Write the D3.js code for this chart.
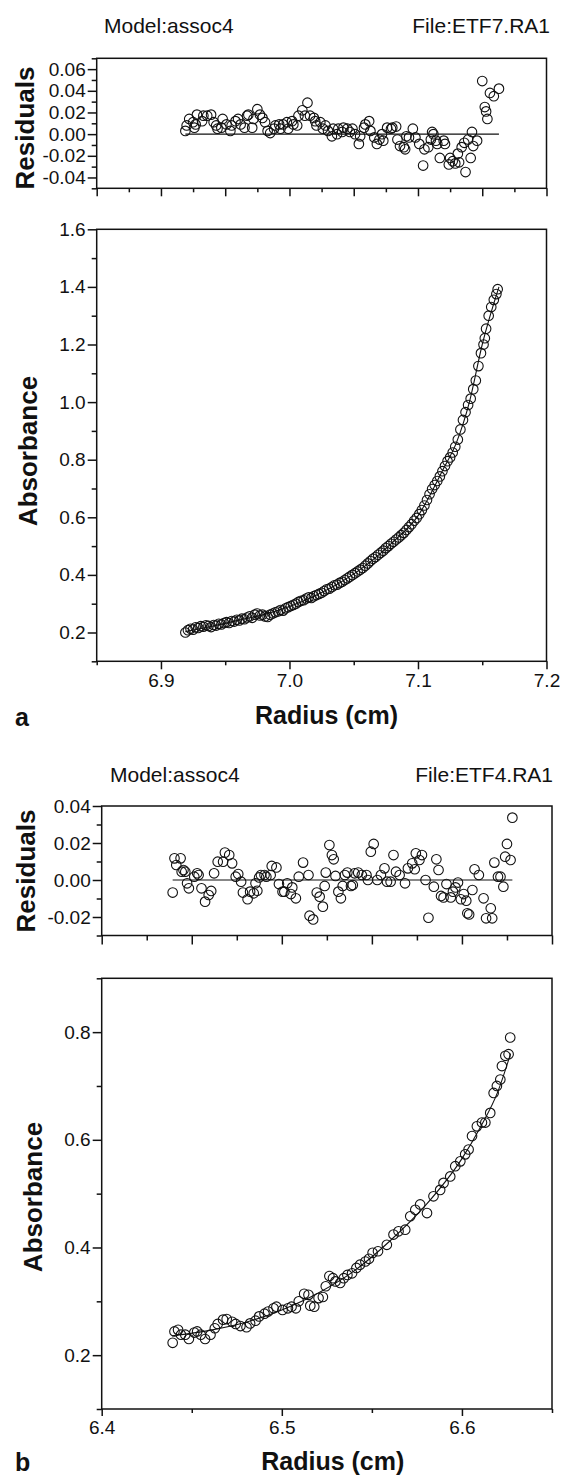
<!DOCTYPE html>
<html>
<head>
<meta charset="utf-8">
<script src="https://cdn.jsdelivr.net/npm/d3@7"></script>
<style>
  body { margin: 0; background: #fff; }
  text { font-family: "Liberation Sans", Arial, sans-serif; fill: #111; }
</style>
</head>
<body>
<svg id="chart" width="562" height="1479"></svg>
<script>
// ---- panel a : ETF7.RA1 ----
const resA_r = [6.919,6.920,6.922,6.925,6.926,6.927,6.928,6.932,6.933,6.936,
  6.939,6.941,6.943,6.944,6.947,6.948,6.951,6.954,6.955,6.958,
  6.960,6.962,6.965,6.967,6.968,6.971,6.972,6.975,6.977,6.979,
  6.981,6.983,6.985,6.988,6.989,6.992,6.993,6.995,6.998,6.999,
  7.002,7.003,7.006,7.007,7.010,7.012,7.014,7.016,7.019,7.020,
  7.021,7.024,7.026,7.028,7.030,7.033,7.034,7.037,7.038,7.041,
  7.042,7.045,7.047,7.049,7.051,7.054,7.055,7.058,7.059,7.062,
  7.063,7.066,7.068,7.070,7.072,7.073,7.076,7.079,7.080,7.083,
  7.084,7.086,7.089,7.090,7.091,7.093,7.096,7.098,7.101,7.104,
  7.105,7.108,7.110,7.111,7.112,7.114,7.115,7.117,7.120,7.121,
  7.124,7.125,7.127,7.129,7.131,7.132,7.134,7.136,7.137,7.139,
  7.141,7.142,7.143,7.146,7.150,7.152,7.153,7.154,7.156,7.159,7.163];
const resA_v = [0.003,0.008,0.014,0.011,0.006,0.009,0.018,0.012,0.017,0.017,
  0.018,0.011,0.008,0.005,0.006,0.014,0.009,0.003,0.008,0.012,
  0.014,0.009,0.006,0.017,0.018,0.006,0.014,0.023,0.018,0.015,
  0.011,0.003,0.001,0.005,0.008,0.009,0.005,0.009,0.011,0.005,
  0.012,0.009,0.008,0.017,0.022,0.017,0.029,0.017,0.015,0.012,
  0.008,0.011,0.005,0.008,0.003,-0.002,0.005,0.000,0.005,0.002,
  0.006,0.005,0.002,0.005,0.000,-0.009,-0.002,0.006,0.009,0.012,
  0.003,-0.003,-0.009,-0.005,0.000,-0.006,0.006,0.005,0.006,0.007,
  -0.005,-0.011,-0.012,-0.014,-0.002,-0.003,0.005,-0.003,-0.009,-0.029,
  -0.014,-0.012,-0.005,0.002,0.000,-0.006,-0.009,-0.022,-0.006,-0.009,
  -0.028,-0.022,-0.025,-0.027,-0.018,-0.026,-0.012,-0.008,-0.035,-0.005,
  -0.022,0.002,-0.011,-0.006,0.049,0.025,0.021,0.014,0.038,0.035,0.042];

const absA_r = [6.919,6.921,6.923,6.925,6.927,6.929,6.931,6.933,6.935,6.937,
  6.939,6.941,6.943,6.945,6.947,6.949,6.951,6.953,6.955,6.957,
  6.959,6.961,6.963,6.965,6.967,6.969,6.971,6.973,6.975,6.977,
  6.979,6.981,6.983,6.985,6.987,6.989,6.991,6.993,6.995,6.997,
  6.999,7.001,7.003,7.005,7.007,7.009,7.011,7.013,7.015,7.017,
  7.019,7.021,7.023,7.025,7.027,7.029,7.031,7.033,7.035,7.037,
  7.039,7.041,7.043,7.045,7.047,7.049,7.051,7.053,7.055,7.057,
  7.059,7.061,7.063,7.065,7.067,7.069,7.071,7.073,7.075,7.077,
  7.079,7.081,7.083,7.085,7.087,7.089,7.091,7.093,7.095,7.097,
  7.099,7.101,7.103,7.105,7.107,7.109,7.111,7.113,7.115,7.117,
  7.119,7.121,7.123,7.125,7.127,7.129,7.131,7.133,7.135,7.137,
  7.139,7.141,7.143,7.145,7.147,7.149,7.151,7.152,7.153,7.155,
  7.157,7.159,7.161,7.162];
const absA_v = [0.200,0.208,0.213,0.210,0.218,0.216,0.222,0.220,0.225,0.223,
  0.219,0.226,0.224,0.230,0.228,0.233,0.236,0.233,0.240,0.238,
  0.244,0.242,0.248,0.246,0.252,0.256,0.251,0.262,0.266,0.259,
  0.262,0.256,0.254,0.262,0.266,0.270,0.273,0.278,0.276,0.284,
  0.288,0.292,0.296,0.300,0.306,0.310,0.312,0.318,0.322,0.320,
  0.326,0.330,0.334,0.338,0.344,0.350,0.352,0.358,0.364,0.366,
  0.372,0.376,0.382,0.388,0.394,0.400,0.406,0.412,0.418,0.424,
  0.432,0.440,0.448,0.456,0.462,0.470,0.477,0.484,0.493,0.500,
  0.508,0.515,0.523,0.530,0.538,0.546,0.556,0.566,0.576,0.588,
  0.598,0.611,0.625,0.641,0.660,0.680,0.698,0.712,0.726,0.742,
  0.760,0.778,0.795,0.808,0.825,0.845,0.870,0.905,0.938,0.965,
  0.990,1.012,1.045,1.075,1.125,1.170,1.200,1.222,1.255,1.300,
  1.330,1.355,1.375,1.392];

const fitA_r = [6.919,6.940,6.960,6.980,7.000,7.020,7.040,7.060,7.080,7.100,7.120,7.130,7.140,7.150,7.163];
const fitA_v = [0.203,0.222,0.242,0.262,0.290,0.328,0.375,0.435,0.512,0.605,0.770,0.860,1.000,1.200,1.400];

// ---- panel b : ETF4.RA1 ----
const resB_r = [6.4394,6.4404,6.4414,6.4438,6.4444,6.4454,6.4464,6.4474,6.4484,6.4514,
  6.4530,6.4538,6.4554,6.4574,6.4594,6.4608,6.4624,6.4644,6.4674,6.4684,
  6.4708,6.4724,6.4744,6.4758,6.4774,6.4784,6.4810,6.4824,6.4844,6.4854,
  6.4864,6.4874,6.4884,6.4904,6.4914,6.4938,6.4944,6.4970,6.4984,6.5004,
  6.5014,6.5030,6.5050,6.5058,6.5078,6.5094,6.5118,6.5148,6.5154,6.5174,
  6.5194,6.5210,6.5228,6.5238,6.5244,6.5264,6.5278,6.5288,6.5298,6.5314,
  6.5328,6.5338,6.5350,6.5364,6.5384,6.5394,6.5404,6.5424,6.5444,6.5470,
  6.5478,6.5494,6.5510,6.5530,6.5550,6.5570,6.5584,6.5604,6.5620,6.5634,
  6.5654,6.5684,6.5700,6.5724,6.5738,6.5744,6.5764,6.5778,6.5798,6.5814,
  6.5844,6.5858,6.5870,6.5884,6.5898,6.5914,6.5938,6.5950,6.5964,6.5978,
  6.5994,6.6010,6.6024,6.6030,6.6040,6.6058,6.6070,6.6094,6.6120,6.6134,
  6.6160,6.6168,6.6180,6.6200,6.6214,6.6230,6.6240,6.6250,6.6270,6.6280];
const resB_v = [-0.0068,0.0117,0.0081,0.0117,0.0045,0.0054,0.0045,-0.0018,-0.0045,0.0018,
  0.0036,0.0027,-0.0045,-0.0117,-0.0081,-0.0059,0.0036,0.0099,0.0099,0.0148,
  0.0135,0.0090,0.0018,0.0032,-0.0009,-0.0068,-0.0104,-0.0063,-0.0072,-0.0018,
  -0.0058,0.0014,0.0027,0.0027,0.0018,0.0027,0.0076,0.0068,-0.0022,-0.0063,
  -0.0063,-0.0018,-0.0076,-0.0040,-0.0099,0.0018,0.0094,0.0027,-0.0193,-0.0213,
  -0.0068,-0.0090,-0.0144,-0.0032,0.0040,0.0189,0.0135,0.0112,0.0022,-0.0063,
  -0.0099,-0.0032,0.0027,0.0040,-0.0032,-0.0027,0.0036,0.0040,0.0027,0.0027,
  0.0000,0.0153,0.0195,0.0000,0.0027,0.0063,-0.0009,-0.0009,0.0135,0.0045,
  0.0027,-0.0018,0.0063,0.0090,0.0058,0.0144,0.0108,0.0135,0.0000,-0.0204,
  -0.0036,0.0112,0.0054,-0.0086,-0.0094,-0.0022,-0.0094,-0.0063,-0.0040,-0.0014,
  -0.0104,-0.0076,-0.0112,-0.0180,-0.0186,-0.0054,0.0058,0.0027,-0.0099,-0.0207,
  -0.0153,-0.0207,0.0094,0.0018,0.0018,-0.0036,0.0126,0.0195,0.0108,0.0337];

const absB_r = [6.4394,6.4404,6.4424,6.4440,6.4464,6.4484,6.4514,6.4530,6.4550,6.4574,
  6.4604,6.4628,6.4644,6.4674,6.4694,6.4724,6.4744,6.4770,6.4804,6.4824,
  6.4854,6.4874,6.4904,6.4924,6.4954,6.4970,6.5004,6.5034,6.5054,6.5078,
  6.5094,6.5124,6.5148,6.5158,6.5180,6.5204,6.5228,6.5244,6.5264,6.5284,
  6.5298,6.5324,6.5344,6.5364,6.5390,6.5414,6.5434,6.5464,6.5484,6.5504,
  6.5534,6.5583,6.5620,6.5648,6.5685,6.5713,6.5741,6.5768,6.5806,6.5842,
  6.5879,6.5898,6.5935,6.5963,6.5991,6.6018,6.6037,6.6056,6.6083,6.6111,
  6.6130,6.6157,6.6176,6.6194,6.6213,6.6222,6.6241,6.6259,6.6268];
const absB_v = [0.223,0.244,0.247,0.238,0.238,0.230,0.242,0.244,0.238,0.230,
  0.238,0.250,0.258,0.266,0.267,0.262,0.258,0.254,0.252,0.259,
  0.264,0.272,0.277,0.281,0.287,0.290,0.284,0.287,0.290,0.287,
  0.300,0.314,0.312,0.292,0.290,0.306,0.308,0.328,0.347,0.343,
  0.337,0.334,0.343,0.349,0.352,0.362,0.368,0.374,0.379,0.390,
  0.393,0.405,0.424,0.430,0.433,0.458,0.470,0.480,0.464,0.495,
  0.507,0.520,0.532,0.551,0.560,0.573,0.582,0.607,0.625,0.632,
  0.632,0.650,0.687,0.700,0.712,0.737,0.756,0.759,0.790];

const fitB_r = [6.439,6.460,6.480,6.500,6.520,6.540,6.560,6.580,6.600,6.610,6.620,6.627];
const fitB_v = [0.236,0.246,0.261,0.284,0.315,0.356,0.412,0.479,0.565,0.622,0.690,0.760];

// ---- axis ticks ----
const xMajA = [6.9, 7.0, 7.1, 7.2];
const xMinA = [6.85, 6.95, 7.05, 7.15];
const xResMajA = [6.85, 6.9, 6.95, 7.0, 7.05, 7.1, 7.15, 7.2];
const xResMinA = [6.875, 6.925, 6.975, 7.025, 7.075, 7.125, 7.175];
const yMajA = [0.2, 0.4, 0.6, 0.8, 1.0, 1.2, 1.4, 1.6];
const yMinA = [0.1, 0.3, 0.5, 0.7, 0.9, 1.1, 1.3, 1.5];
const yResMajA = [-0.04, -0.02, 0.00, 0.02, 0.04, 0.06];
const yResMinA = [-0.05, -0.03, -0.01, 0.01, 0.03, 0.05, 0.07];

const xMajB = [6.4, 6.5, 6.6];
const xMinB = [6.45, 6.55, 6.65];
const xResMajB = [6.4, 6.45, 6.5, 6.55, 6.6, 6.65];
const xResMinB = [6.425, 6.475, 6.525, 6.575, 6.625];
const yMajB = [0.2, 0.4, 0.6, 0.8];
const yMinB = [0.1, 0.3, 0.5, 0.7, 0.9];
const yResMajB = [-0.02, 0.00, 0.02, 0.04];
const yResMinB = [-0.03, -0.01, 0.01, 0.03];

const svg = d3.select("#chart");
const ink = "#111";

const zip = (xs, ys) => xs.map((d, i) => [d, ys[i]]);

// one framed plot box with major/minor ticks
const drawPlot = (c) => {
  const x = d3.scaleLinear().domain(c.xDom).range([c.left, c.right]);
  const y = d3.scaleLinear().domain(c.yDom).range([c.bottom, c.top]);

  svg.append("rect")
    .attr("x", c.left).attr("y", c.top)
    .attr("width", c.right - c.left).attr("height", c.bottom - c.top)
    .attr("fill", "none").attr("stroke", ink).attr("stroke-width", 1.5);

  const gx = svg.append("g").attr("transform", `translate(0,${c.bottom})`);
  gx.append("g").call(d3.axisBottom(x).tickValues(c.xMin).tickSize(c.minLen).tickFormat(""));
  gx.append("g").call(d3.axisBottom(x).tickValues(c.xMaj).tickSize(c.majLen)
    .tickPadding(c.xPad).tickFormat(c.xFmt ? c.xFmt : ""));

  const gy = svg.append("g").attr("transform", `translate(${c.left},0)`);
  gy.append("g").call(d3.axisLeft(y).tickValues(c.yMin).tickSize(5).tickFormat(""));
  gy.append("g").call(d3.axisLeft(y).tickValues(c.yMaj).tickSize(9)
    .tickPadding(2).tickFormat(c.yFmt));

  [gx, gy].forEach(g => {
    g.selectAll(".domain").remove();
    g.selectAll("line").attr("stroke", ink).attr("stroke-width", 1.5);
    g.selectAll("text")
      .attr("font-family", '"Liberation Sans", Arial, sans-serif')
      .attr("font-size", 19).attr("fill", ink);
  });
  return { x, y };
};

const drawDots = (s, xs, ys) => {
  svg.append("g").selectAll("circle")
    .data(zip(xs, ys)).join("circle")
    .attr("cx", d => s.x(d[0])).attr("cy", d => s.y(d[1]))
    .attr("r", 4.8)
    .attr("fill", "none").attr("stroke", ink).attr("stroke-width", 1.1);
};

const drawFit = (s, xs, ys) => {
  const line = d3.line().x(d => s.x(d[0])).y(d => s.y(d[1])).curve(d3.curveMonotoneX);
  svg.append("path").datum(zip(xs, ys)).attr("d", line)
    .attr("fill", "none").attr("stroke", ink).attr("stroke-width", 1.1);
};

const drawZero = (s, xs) => {
  svg.append("line")
    .attr("x1", s.x(d3.min(xs))).attr("x2", s.x(d3.max(xs)))
    .attr("y1", s.y(0)).attr("y2", s.y(0))
    .attr("stroke", ink).attr("stroke-width", 1.1);
};

const label = (txt, x, y, size, bold, anchor, rot) => {
  const t = svg.append("text").text(txt)
    .attr("font-size", size)
    .attr("font-weight", bold ? "bold" : "normal")
    .attr("text-anchor", anchor || "start");
  if (rot) {
    t.attr("transform", `translate(${x},${y}) rotate(-90)`);
  } else {
    t.attr("x", x).attr("y", y);
  }
  return t;
};

const f1 = d => d.toFixed(1);
const f2 = d => d.toFixed(2);

// ===== panel a =====
label("Model:assoc4", 104, 33, 21, false);
label("File:ETF7.RA1", 550, 33, 21, false, "end");

const sResA = drawPlot({
  left: 96.7, right: 546.5, top: 58.3, bottom: 188.3,
  xDom: [6.85, 7.2], yDom: [-0.05, 0.07],
  xMaj: xResMajA, xMin: xResMinA, majLen: 8, minLen: 4, xPad: 3,
  yMaj: yResMajA, yMin: yResMinA, yFmt: f2
});
drawZero(sResA, resA_r);
drawDots(sResA, resA_r, resA_v);
label("Residuals", 34, 128, 26, true, "middle", true);

const sAbsA = drawPlot({
  left: 96.7, right: 546.5, top: 229.3, bottom: 661.3,
  xDom: [6.85, 7.2], yDom: [0.1, 1.6],
  xMaj: xMajA, xMin: xMinA, majLen: 8, minLen: 4, xPad: 4, xFmt: f1,
  yMaj: yMajA, yMin: yMinA, yFmt: f1
});
drawFit(sAbsA, fitA_r, fitA_v);
drawDots(sAbsA, absA_r, absA_v);
label("Absorbance", 36.7, 451, 26, true, "middle", true);
label("Radius (cm)", 326.5, 724, 25, true, "middle");
label("a", 15, 726, 25, true);

// ===== panel b =====
label("Model:assoc4", 110, 782, 21, false);
label("File:ETF4.RA1", 553, 782, 21, false, "end");

const sResB = drawPlot({
  left: 101.7, right: 552, top: 806, bottom: 935.5,
  xDom: [6.4, 6.65], yDom: [-0.03, 0.04],
  xMaj: xResMajB, xMin: xResMinB, majLen: 9, minLen: 5, xPad: 3,
  yMaj: yResMajB, yMin: yResMinB, yFmt: f2
});
drawZero(sResB, resB_r);
drawDots(sResB, resB_r, resB_v);
label("Residuals", 35, 871, 26, true, "middle", true);

const sAbsB = drawPlot({
  left: 101.7, right: 552, top: 978.3, bottom: 1409,
  xDom: [6.4, 6.65], yDom: [0.1, 0.9],
  xMaj: xMajB, xMin: xMinB, majLen: 7, minLen: 4, xPad: 5, xFmt: f1,
  yMaj: yMajB, yMin: yMinB, yFmt: f1
});
drawFit(sAbsB, fitB_r, fitB_v);
drawDots(sAbsB, absB_r, absB_v);
label("Absorbance", 42, 1197, 26, true, "middle", true);
label("Radius (cm)", 332.8, 1470, 25, true, "middle");
label("b", 15, 1471, 25, true);
</script>
</body>
</html>
